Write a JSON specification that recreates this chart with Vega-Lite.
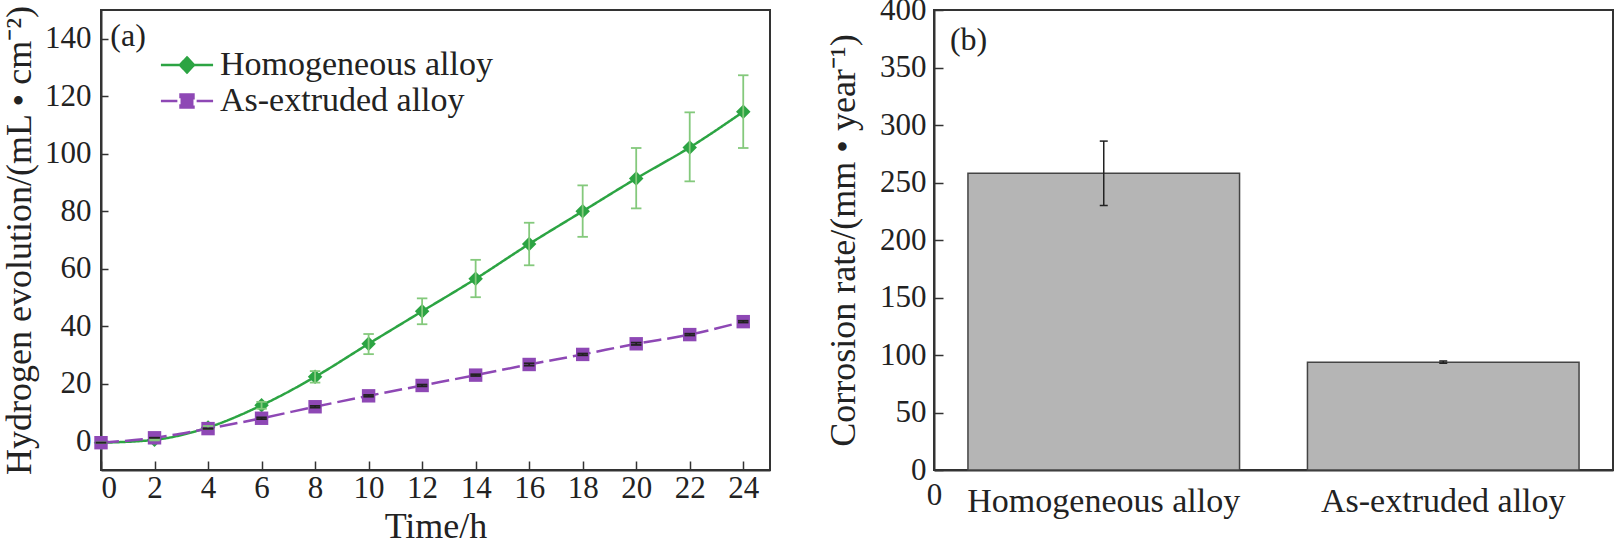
{
  "$schema": "https://vega.github.io/schema/vega-lite/v6.json",
  "padding": {"left": 0, "top": -7, "right": 0, "bottom": 0},
  "background": "white",
  "spacing": 53,
  "config": {
    "font": "Liberation Serif",
    "view": {"stroke": "#333", "strokeWidth": 2},
    "axis": {
      "grid": false,
      "domainColor": "#333",
      "domainWidth": 2,
      "tickColor": "#333",
      "tickWidth": 1.5,
      "labelColor": "#222",
      "titleColor": "#222",
      "labelFont": "Liberation Serif",
      "titleFont": "Liberation Serif",
      "titleFontWeight": "normal",
      "labelFontSize": 31,
      "titleFontSize": 36,
      "labelLimit": 0
    }
  },
  "hconcat": [
    {
      "width": 669,
      "height": 460,
      "data": {
        "values": [
          {"time": 0, "series": "Homogeneous alloy", "value": -0.5, "lo": -0.5, "hi": -0.5},
          {"time": 2, "series": "Homogeneous alloy", "value": 0.5, "lo": 0.3, "hi": 0.7},
          {"time": 4, "series": "Homogeneous alloy", "value": 4.8, "lo": 4.3, "hi": 5.3},
          {"time": 6, "series": "Homogeneous alloy", "value": 12.5, "lo": 11.3, "hi": 13.7},
          {"time": 8, "series": "Homogeneous alloy", "value": 22.4, "lo": 20.4, "hi": 24.4},
          {"time": 10, "series": "Homogeneous alloy", "value": 33.9, "lo": 30.3, "hi": 37.3},
          {"time": 12, "series": "Homogeneous alloy", "value": 45.2, "lo": 40.7, "hi": 49.7},
          {"time": 14, "series": "Homogeneous alloy", "value": 56.5, "lo": 50.1, "hi": 63.1},
          {"time": 16, "series": "Homogeneous alloy", "value": 68.6, "lo": 61.2, "hi": 76.0},
          {"time": 18, "series": "Homogeneous alloy", "value": 80.0, "lo": 71.1, "hi": 89.0},
          {"time": 20, "series": "Homogeneous alloy", "value": 91.4, "lo": 81.0, "hi": 102.0},
          {"time": 22, "series": "Homogeneous alloy", "value": 102.2, "lo": 90.4, "hi": 114.4},
          {"time": 24, "series": "Homogeneous alloy", "value": 114.6, "lo": 102.0, "hi": 127.3},
          {"time": 0, "series": "As-extruded alloy", "value": -0.5, "lo": -0.5, "hi": -0.5},
          {"time": 2, "series": "As-extruded alloy", "value": 1.2, "lo": 1.2, "hi": 1.2},
          {"time": 4, "series": "As-extruded alloy", "value": 4.4, "lo": 4.4, "hi": 4.4},
          {"time": 6, "series": "As-extruded alloy", "value": 8.0, "lo": 7.7, "hi": 8.3},
          {"time": 8, "series": "As-extruded alloy", "value": 12.0, "lo": 11.7, "hi": 12.3},
          {"time": 10, "series": "As-extruded alloy", "value": 15.8, "lo": 15.5, "hi": 16.1},
          {"time": 12, "series": "As-extruded alloy", "value": 19.4, "lo": 19.1, "hi": 19.7},
          {"time": 14, "series": "As-extruded alloy", "value": 23.0, "lo": 22.7, "hi": 23.3},
          {"time": 16, "series": "As-extruded alloy", "value": 26.7, "lo": 26.3, "hi": 27.1},
          {"time": 18, "series": "As-extruded alloy", "value": 30.2, "lo": 29.9, "hi": 30.5},
          {"time": 20, "series": "As-extruded alloy", "value": 33.9, "lo": 33.5, "hi": 34.3},
          {"time": 22, "series": "As-extruded alloy", "value": 37.1, "lo": 36.8, "hi": 37.4},
          {"time": 24, "series": "As-extruded alloy", "value": 41.6, "lo": 41.3, "hi": 41.9}
        ]
      },
      "encoding": {
        "x": {
          "field": "time",
          "type": "quantitative",
          "title": "Time/h",
          "scale": {"domain": [0, 25], "nice": false, "zero": false},
          "axis": {
            "values": [0, 2, 4, 6, 8, 10, 12, 14, 16, 18, 20, 22, 24],
            "tickSize": -9,
            "labelPadding": 12,
            "titlePadding": 6
          }
        }
      },
      "layer": [
        {
          "mark": {"type": "line", "interpolate": "monotone", "strokeWidth": 2.5},
          "encoding": {
            "y": {
              "field": "value",
              "type": "quantitative",
              "title": "Hydrogen evolution/(mL • cm⁻²)",
              "scale": {"domain": [-10, 150], "nice": false, "zero": false},
              "axis": {
                "values": [0, 20, 40, 60, 80, 100, 120, 140],
                "tickSize": -7,
                "labelPadding": 17,
                "titlePadding": 6
              }
            },
            "color": {
              "field": "series",
              "type": "nominal",
              "scale": {"domain": ["Homogeneous alloy", "As-extruded alloy"], "range": ["#2ca443", "#8e48b5"]},
              "legend": {
                "orient": "none",
                "legendX": 67,
                "legendY": 36,
                "title": null,
                "labelFont": "Liberation Serif",
                "labelFontSize": 34,
                "labelColor": "#222",
                "labelLimit": 0,
                "labelOffset": 14,
                "rowPadding": 0,
                "symbolSize": 1225,
                "symbolStrokeWidth": 2.5,
                "symbolOpacity": 1,
                "encode": {
                  "symbols": {
                    "update": {
                      "shape": {"signal": "datum.value === 'Homogeneous alloy' ? 'M-1.49,0L1.49,0M0,-0.43L0.4,0L0,0.43L-0.4,0Z' : 'M-1.49,0L-0.55,0M0.55,0L1.49,0M-0.37,-0.37L0.37,-0.37L0.37,0.37L-0.37,0.37Z'"},
                      "size": {"value": 1225},
                      "fill": {"signal": "datum.value === 'Homogeneous alloy' ? '#1e9a3a' : '#7e3fa8'"},
                      "stroke": {"signal": "datum.value === 'Homogeneous alloy' ? '#2ca443' : '#a35ac4'"},
                      "strokeWidth": {"value": 2.5},
                      "strokeOpacity": {"value": 1},
                      "fillOpacity": {"value": 1},
                      "opacity": {"value": 1}
                    }
                  }
                }
              }
            },
            "strokeDash": {
              "field": "series",
              "type": "nominal",
              "scale": {"domain": ["Homogeneous alloy", "As-extruded alloy"], "range": [[1, 0], [18, 6]]}
            }
          }
        },
        {
          "transform": [{"filter": "datum.series === 'Homogeneous alloy'"}],
          "mark": {"type": "point", "filled": true, "opacity": 1, "shape": "diamond", "size": 210},
          "encoding": {
            "y": {"field": "value", "type": "quantitative"},
            "color": {"field": "series", "type": "nominal", "legend": null}
          }
        },
        {
          "transform": [{"filter": "datum.series === 'As-extruded alloy'"}],
          "mark": {"type": "point", "filled": true, "opacity": 1, "shape": "square", "size": 180},
          "encoding": {
            "y": {"field": "value", "type": "quantitative"},
            "color": {"field": "series", "type": "nominal", "legend": null}
          }
        },
        {
          "mark": {"type": "rule", "strokeWidth": 1.8},
          "encoding": {
            "y": {"field": "lo", "type": "quantitative"},
            "y2": {"field": "hi"},
            "stroke": {
              "field": "series",
              "type": "nominal",
              "scale": {"domain": ["Homogeneous alloy", "As-extruded alloy"], "range": ["#84c97c", "#222"]},
              "legend": null
            }
          }
        },
        {
          "mark": {"type": "point", "shape": "stroke", "size": 110, "strokeWidth": 1.8, "opacity": 1},
          "encoding": {
            "y": {"field": "lo", "type": "quantitative"},
            "stroke": {"field": "series", "type": "nominal", "legend": null}
          }
        },
        {
          "mark": {"type": "point", "shape": "stroke", "size": 110, "strokeWidth": 1.8, "opacity": 1},
          "encoding": {
            "y": {"field": "hi", "type": "quantitative"},
            "stroke": {"field": "series", "type": "nominal", "legend": null}
          }
        },
        {
          "data": {"values": [{"time": 0.35, "value": 141, "label": "(a)"}]},
          "mark": {"type": "text", "align": "left", "baseline": "middle", "fontSize": 32, "font": "Liberation Serif", "color": "#222"},
          "encoding": {
            "y": {"field": "value", "type": "quantitative"},
            "text": {"field": "label"}
          }
        }
      ]
    },
    {
      "width": 679,
      "height": 460,
      "data": {
        "values": [
          {"alloy": "Homogeneous alloy", "rate": 258, "lo": 230, "hi": 286},
          {"alloy": "As-extruded alloy", "rate": 93.8, "lo": 92.8, "hi": 94.8}
        ]
      },
      "encoding": {
        "x": {
          "field": "alloy",
          "type": "nominal",
          "sort": null,
          "title": "0",
          "scale": {"domain": ["Homogeneous alloy", "As-extruded alloy"], "paddingInner": 0.2, "paddingOuter": 0.1},
          "axis": {
            "labelAngle": 0,
            "ticks": false,
            "labelPadding": 14,
            "labelFontSize": 34,
            "titleFontSize": 31,
            "titleAnchor": "start",
            "titleAlign": "center",
            "titleBaseline": "middle",
            "titleY": 25
          }
        }
      },
      "layer": [
        {
          "mark": {"type": "bar", "fill": "#b5b5b5", "stroke": "#444", "strokeWidth": 1.5},
          "encoding": {
            "y": {
              "field": "rate",
              "type": "quantitative",
              "title": "Corrosion rate/(mm • year⁻¹)",
              "scale": {"domain": [0, 400], "nice": false},
              "axis": {
                "values": [0, 50, 100, 150, 200, 250, 300, 350, 400],
                "tickSize": -9,
                "labelPadding": 17,
                "titlePadding": 17
              }
            }
          }
        },
        {
          "mark": {"type": "rule", "color": "#222", "strokeWidth": 1.5},
          "encoding": {
            "y": {"field": "lo", "type": "quantitative"},
            "y2": {"field": "hi"}
          }
        },
        {
          "mark": {"type": "point", "shape": "stroke", "size": 64, "strokeWidth": 1.5, "color": "#222", "opacity": 1},
          "encoding": {"y": {"field": "lo", "type": "quantitative"}}
        },
        {
          "mark": {"type": "point", "shape": "stroke", "size": 64, "strokeWidth": 1.5, "color": "#222", "opacity": 1},
          "encoding": {"y": {"field": "hi", "type": "quantitative"}}
        },
        {
          "data": {"values": [{"alloy": "Homogeneous alloy", "rate": 374, "label": "(b)"}]},
          "mark": {"type": "text", "align": "left", "baseline": "middle", "dx": -18, "fontSize": 32, "font": "Liberation Serif", "color": "#222"},
          "encoding": {
            "x": {"field": "alloy", "type": "nominal", "bandPosition": 0},
            "y": {"field": "rate", "type": "quantitative"},
            "text": {"field": "label"}
          }
        }
      ]
    }
  ]
}
